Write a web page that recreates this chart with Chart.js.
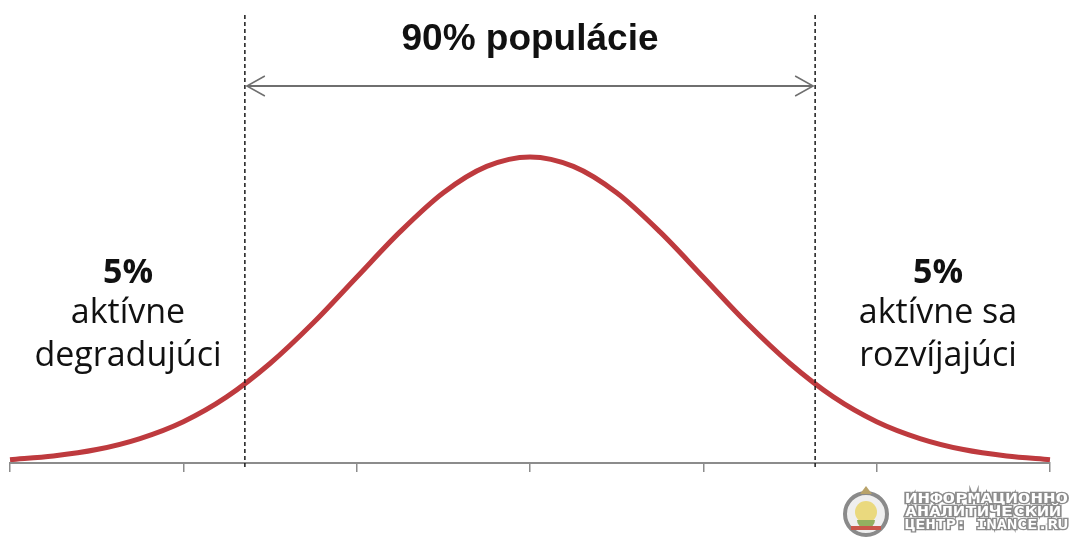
<!DOCTYPE html>
<html>
<head>
<meta charset="utf-8">
<script src="https://cdn.jsdelivr.net/npm/chart.js@4"></script>
<style>
html,body{margin:0;padding:0;background:#fff;}
#wrap{width:1073px;height:541px;position:relative;}
</style>
</head>
<body>
<div id="wrap"><canvas id="c" width="1073" height="541"></canvas></div>
<script>
// Values (x in standard deviations, y relative to peak)
const xValues = [-3, -2.75, -2.5, -2.25, -2, -1.75, -1.5, -1.25, -1, -0.75, -0.5, -0.25, 0,
                 0.25, 0.5, 0.75, 1, 1.25, 1.5, 1.75, 2, 2.25, 2.5, 2.75, 3];
const yValues = [0.011, 0.023, 0.044, 0.080, 0.135, 0.216, 0.325, 0.458, 0.607, 0.755, 0.883, 0.969, 1.0,
                 0.969, 0.883, 0.755, 0.607, 0.458, 0.325, 0.216, 0.135, 0.080, 0.044, 0.023, 0.011];
const tickValues = [-3, -2, -1, 0, 1, 2, 3];
const bounds = [-1.645, 1.645];
const titleText = "90% populácie";
const leftLabel = ["5%", "aktívne", "degradujúci"];
const rightLabel = ["5%", "aktívne sa", "rozvíjajúci"];
const logoLines = ["ИНФОРМАЦИОННО", "АНАЛИТИЧЕСКИЙ", "ЦЕНТР: INANCE.RU"];

const overlay = {
  id: 'overlay',
  afterDraw(chart) {
    const ctx = chart.ctx;
    const xs = chart.scales.x;
    const xL = xs.getPixelForValue(bounds[0]);
    const xR = xs.getPixelForValue(bounds[1]);
    const mid = xs.getPixelForValue(0);
    const bottom = chart.chartArea.bottom;
    ctx.save();
    // dashed lines
    ctx.strokeStyle = '#1a1a1a';
    ctx.lineWidth = 1.5;
    ctx.setLineDash([4, 3]);
    [xL, xR].forEach(x => {
      ctx.beginPath();
      ctx.moveTo(x, 15);
      ctx.lineTo(x, bottom + 7);
      ctx.stroke();
    });
    ctx.setLineDash([]);
    // double arrow
    const ay = 86;
    ctx.strokeStyle = '#6f6f6f';
    ctx.lineWidth = 2;
    ctx.beginPath();
    ctx.moveTo(xL + 2, ay); ctx.lineTo(xR - 2, ay);
    ctx.stroke();
    ctx.lineWidth = 1.5;
    ctx.beginPath();
    ctx.moveTo(xL + 20, ay - 10); ctx.lineTo(xL + 2, ay); ctx.lineTo(xL + 20, ay + 10);
    ctx.moveTo(xR - 20, ay - 10); ctx.lineTo(xR - 2, ay); ctx.lineTo(xR - 20, ay + 10);
    ctx.stroke();
    // title
    ctx.fillStyle = '#111';
    ctx.textAlign = 'center';
    ctx.textBaseline = 'alphabetic';
    ctx.font = 'bold 37px "Liberation Sans"';
    ctx.fillText(titleText, mid, 50);
    // side labels
    const drawLabel = (lines, cx) => {
      ctx.font = 'bold 34px "Open Sans"';
      ctx.fillText(lines[0], cx, 283);
      ctx.font = '34px "Open Sans"';
      ctx.fillText(lines[1], cx, 323);
      ctx.fillText(lines[2], cx, 366);
    };
    drawLabel(leftLabel, 128);
    drawLabel(rightLabel, 938);
    // logo
    const lx = 866, ly = 514;
    ctx.beginPath(); ctx.arc(lx, ly, 21, 0, Math.PI * 2); ctx.fillStyle = '#efefef'; ctx.fill();
    ctx.lineWidth = 4; ctx.strokeStyle = '#8a8a8a'; ctx.stroke();
    ctx.beginPath(); ctx.arc(lx, ly - 2, 11, 0, Math.PI * 2); ctx.fillStyle = '#ead97e'; ctx.fill();
    ctx.beginPath(); ctx.moveTo(lx - 6, ly - 20); ctx.lineTo(lx, ly - 28); ctx.lineTo(lx + 6, ly - 20); ctx.closePath();
    ctx.fillStyle = '#b9a36a'; ctx.fill();
    ctx.beginPath(); ctx.arc(lx, ly + 6, 9, 0, Math.PI); ctx.fillStyle = '#93b060'; ctx.fill();
    ctx.fillStyle = '#c9574a'; ctx.fillRect(lx - 15, ly + 12, 30, 4);
    ctx.font = 'bold 14px "DejaVu Sans Mono"';
    ctx.textAlign = 'left';
    ctx.lineWidth = 2.5;
    ctx.strokeStyle = '#8c8c8c';
    ctx.fillStyle = '#ffffff';
    logoLines.forEach((t, i) => {
      const y = 503 + i * 13;
      const w = ctx.measureText(t).width;
      const target = i === 1 ? 156 : 163;
      ctx.save();
      ctx.translate(905, y);
      ctx.scale(target / w, 1);
      ctx.strokeText(t, 0, 0);
      ctx.fillText(t, 0, 0);
      ctx.restore();
    });
    ctx.restore();
  }
};

new Chart(document.getElementById('c'), {
  type: 'line',
  data: {
    datasets: [{
      data: xValues.map((x, i) => ({ x: x, y: yValues[i] })),
      borderColor: '#be3a3e',
      borderWidth: 5,
      pointRadius: 0,
      fill: false,
      cubicInterpolationMode: 'monotone',
      clip: false
    }]
  },
  options: {
    responsive: false,
    animation: false,
    layout: { padding: { left: 10, right: 23, top: 10, bottom: 69 } },
    plugins: { legend: { display: false }, tooltip: { enabled: false } },
    scales: {
      x: {
        type: 'linear',
        min: -3, max: 3,
        afterBuildTicks: (s) => { s.ticks = tickValues.map(v => ({ value: v })); },
        ticks: { display: false },
        grid: { drawOnChartArea: false, drawTicks: true, tickLength: 9, color: '#8c8c8c', lineWidth: 1.5 },
        border: { display: true, color: '#8c8c8c', width: 2 }
      },
      y: { display: false, min: 0, max: 1.48 }
    }
  },
  plugins: [overlay]
});
</script>
</body>
</html>
